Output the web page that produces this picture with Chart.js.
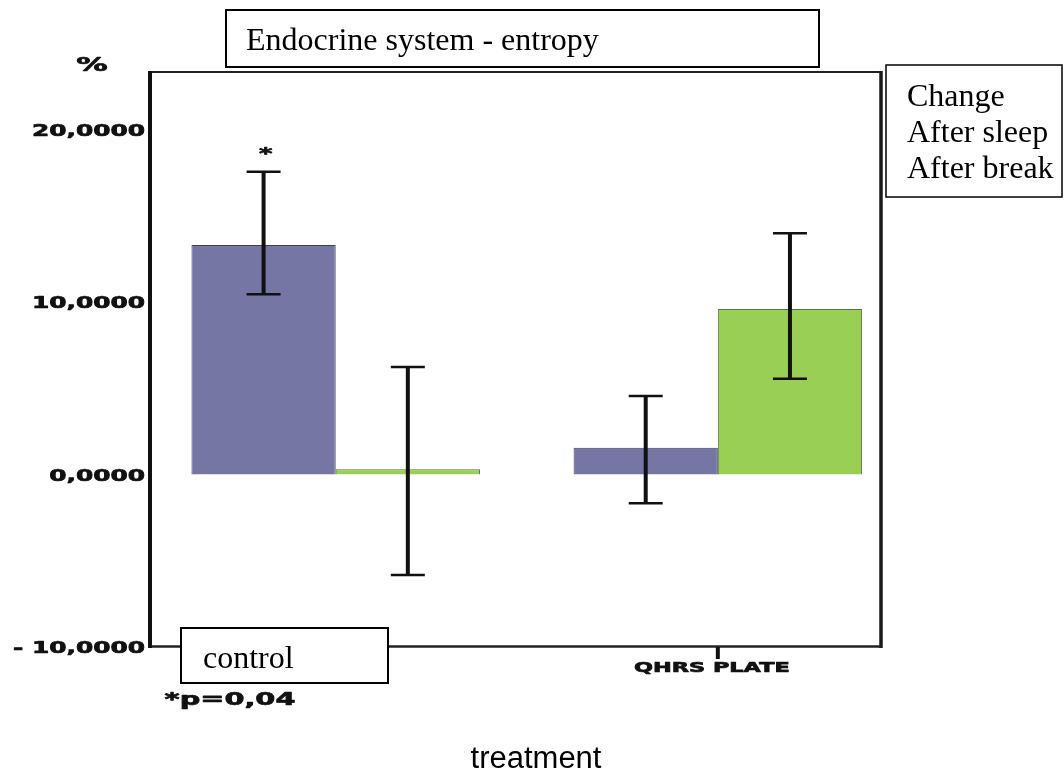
<!DOCTYPE html>
<html>
<head>
<meta charset="utf-8">
<title>Endocrine system - entropy</title>
<script src="https://cdn.jsdelivr.net/npm/chart.js@4/dist/chart.umd.min.js"></script>
<style>
  html, body { margin: 0; padding: 0; background: #ffffff; }
  #wrap { width: 1064px; height: 776px; }
</style>
</head>
<body>
<div id="wrap"><canvas id="chart" width="1064" height="776"></canvas></div>
<script>
// ---- data ----
const chartTitle = 'Endocrine system - entropy';
const categories = ['control', 'QHRS PLATE'];
const categoryPos = [0, 1];
const legendTitle = 'Change';
const seriesNames = ['After sleep', 'After break'];

const afterSleep = [13.3, 1.55];
const afterSleepLow = [10.45, -1.67];
const afterSleepHigh = [17.55, 4.55];
const afterSleepMark = ['*', ''];

const afterBreak = [0.3, 9.6];
const afterBreakLow = [-5.83, 5.55];
const afterBreakHigh = [6.23, 13.98];
const afterBreakMark = ['', ''];

const yTickValues = [-10, 0, 10, 20];
const yTickLabels = ['- 10,0000', '0,0000', '10,0000', '20,0000'];
const yUnit = '%';
const xTitle = 'treatment';
const footnote = '*p=0,04';

// ---- styling helpers ----
const INK = '#111111';

// heavy, horizontally extended sans labels
function wideText(ctx, text, x, y, align, size, sx) {
  ctx.save();
  ctx.font = 'bold ' + size + 'px "DejaVu Sans"';
  ctx.fillStyle = INK;
  ctx.strokeStyle = INK;
  ctx.lineWidth = 0.7;
  ctx.lineJoin = 'round';
  ctx.textAlign = align;
  ctx.textBaseline = 'middle';
  ctx.translate(x, y);
  ctx.scale(sx, 1);
  ctx.fillText(text, 0, 0);
  ctx.strokeText(text, 0, 0);
  ctx.restore();
}

function serifText(ctx, text, x, y) {
  ctx.save();
  ctx.font = '32px "Liberation Serif"';
  ctx.fillStyle = '#000000';
  ctx.textAlign = 'left';
  ctx.textBaseline = 'alphabetic';
  ctx.fillText(text, x, y);
  ctx.restore();
}

function box(ctx, x0, y0, x1, y1, lw) {
  ctx.save();
  ctx.fillStyle = '#ffffff';
  ctx.fillRect(x0, y0, x1 - x0, y1 - y0);
  ctx.strokeStyle = '#000000';
  ctx.lineWidth = lw;
  ctx.strokeRect(x0, y0, x1 - x0, y1 - y0);
  ctx.restore();
}

function line(ctx, x0, y0, x1, y1, w, c) {
  ctx.beginPath();
  ctx.moveTo(x0, y0);
  ctx.lineTo(x1, y1);
  ctx.lineWidth = w;
  ctx.strokeStyle = c;
  ctx.stroke();
}

const lows = [afterSleepLow, afterBreakLow];
const highs = [afterSleepHigh, afterBreakHigh];
const marks = [afterSleepMark, afterBreakMark];

// frame, error bars and significance marks
const errorBarPlugin = {
  id: 'errorBars',
  afterDatasetsDraw(chart) {
    const ctx = chart.ctx;
    const y = chart.scales.y;
    const x = chart.scales.x;
    const a = chart.chartArea;
    ctx.save();
    ctx.lineCap = 'butt';
    // plot frame
    line(ctx, a.left - 2, a.top + 1, a.right, a.top + 1, 2, '#222222');
    line(ctx, a.right, a.top, a.right, a.bottom + 1, 3.5, '#1a1a1a');
    line(ctx, a.left, a.bottom - 0.5, a.right, a.bottom - 0.5, 2.5, '#222222');
    line(ctx, a.left, a.top, a.left, a.bottom + 1, 4, '#111111');
    // category ticks
    categoryPos.forEach(v => {
      const px = x.getPixelForValue(v);
      line(ctx, px, a.bottom, px, a.bottom + 12, 4, '#111111');
    });
    // error bars
    chart.data.datasets.forEach((ds, di) => {
      const meta = chart.getDatasetMeta(di);
      meta.data.forEach((bar, i) => {
        const yHi = y.getPixelForValue(highs[di][i]);
        const yLo = y.getPixelForValue(lows[di][i]);
        const bx = bar.x;
        line(ctx, bx, yHi, bx, yLo, 4, '#111111');
        line(ctx, bx - 17, yHi, bx + 17, yHi, 2.5, '#111111');
        line(ctx, bx - 17, yLo, bx + 17, yLo, 2.5, '#111111');
        if (marks[di][i]) {
          wideText(ctx, marks[di][i], bx + 2, yHi - 17, 'center', 16, 1.6);
        }
      });
    });
    ctx.restore();
  },
  afterDraw(chart) {
    const ctx = chart.ctx;
    const y = chart.scales.y;
    const x = chart.scales.x;
    const a = chart.chartArea;
    // y tick labels
    yTickValues.forEach((v, i) => {
      wideText(ctx, yTickLabels[i], a.left - 5, y.getPixelForValue(v) + 2, 'right', 16, 1.55);
    });
    wideText(ctx, yUnit, 92, 66, 'center', 19, 1.65);
    // category labels: second under its tick, first in a boxed caption
    wideText(ctx, categories[1], x.getPixelForValue(categoryPos[1]) - 6, 668, 'center', 14, 1.6);
    box(ctx, 181, 628, 388, 683, 2);
    serifText(ctx, categories[0], 203, 668);
    wideText(ctx, footnote, 230, 700, 'center', 18, 1.6);
    // axis title
    ctx.save();
    ctx.font = '31px "Liberation Sans"';
    ctx.fillStyle = '#000000';
    ctx.textAlign = 'center';
    ctx.textBaseline = 'alphabetic';
    ctx.fillText(xTitle, 536, 768);
    ctx.restore();
    // title box
    box(ctx, 226, 10, 819, 67, 2);
    serifText(ctx, chartTitle, 246, 50);
    // legend box
    box(ctx, 886, 65, 1062, 197, 1.5);
    serifText(ctx, legendTitle, 907, 106);
    chart.data.datasets.forEach((ds, i) => {
      serifText(ctx, ds.label, 907, 142 + i * 36);
    });
  }
};

new Chart(document.getElementById('chart'), {
  type: 'bar',
  data: {
    datasets: [
      {
        label: seriesNames[0],
        data: categoryPos.map((p, i) => ({ x: p, y: afterSleep[i] })),
        backgroundColor: '#7576A3',
        borderColor: '#40405e',
        borderWidth: 1,
        categoryPercentage: 0.755,
        barPercentage: 1.0
      },
      {
        label: seriesNames[1],
        data: categoryPos.map((p, i) => ({ x: p, y: afterBreak[i] })),
        backgroundColor: '#9ACF56',
        borderColor: '#5f6e4c',
        borderWidth: 1,
        categoryPercentage: 0.755,
        barPercentage: 1.0
      }
    ]
  },
  options: {
    responsive: false,
    animation: false,
    devicePixelRatio: 1,
    layout: { padding: { left: 150, top: 71, right: 183, bottom: 129 } },
    plugins: {
      legend: { display: false },
      tooltip: { enabled: false },
      title: { display: false }
    },
    scales: {
      x: {
        type: 'linear',
        display: false,
        offset: false,
        min: -0.486,
        max: 1.427,
        afterBuildTicks: (scale) => { scale.ticks = categoryPos.map(v => ({ value: v })); }
      },
      y: {
        display: false,
        min: -10,
        max: 23.39
      }
    }
  },
  plugins: [errorBarPlugin]
});
</script>
</body>
</html>
